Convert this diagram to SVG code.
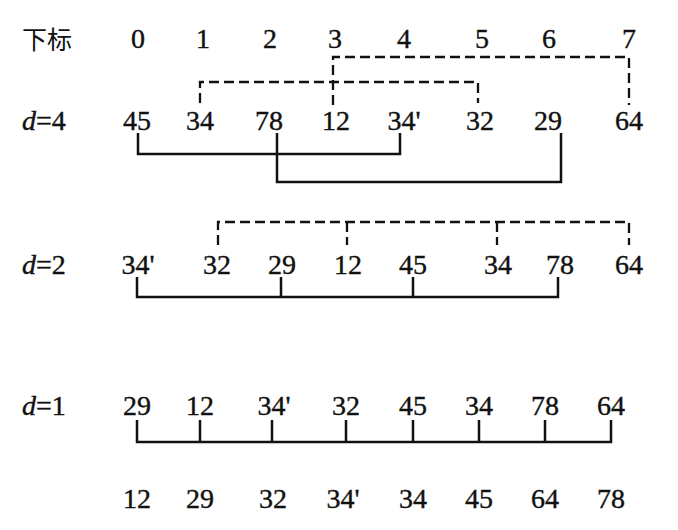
<svg xmlns="http://www.w3.org/2000/svg" width="678" height="530" viewBox="0 0 678 530">
<style>
.s{fill:none;stroke:#111;stroke-width:2.5}
.d{fill:none;stroke:#111;stroke-width:2.3;stroke-dasharray:10 5}
</style>
<rect width="678" height="530" fill="#fff"/>
<g font-family="'Times New Roman', 'Liberation Serif', 'DejaVu Serif', serif" font-size="28" fill="#111" stroke="#111" stroke-width="0.4" text-anchor="middle">
<g id="header">
<text x="22" y="49" font-family="Noto Sans CJK SC, sans-serif" font-size="25" stroke-width="0" text-anchor="start">下标</text>
<text x="138" y="48">0</text>
<text x="203" y="48">1</text>
<text x="270" y="48">2</text>
<text x="335" y="48">3</text>
<text x="404" y="48">4</text>
<text x="482" y="48">5</text>
<text x="549" y="48">6</text>
<text x="629" y="48">7</text>
</g>
<g id="row-d4">
<text x="22" y="130" text-anchor="start"><tspan font-style="italic">d</tspan>=4</text>
<g id="d4-0"><text x="137" y="130">45</text></g>
<g id="d4-1"><text x="200" y="130">34</text></g>
<g id="d4-2"><text x="269" y="130">78</text></g>
<g id="d4-3"><text x="336" y="130">12</text></g>
<g id="d4-4"><text x="404" y="130">34'</text></g>
<g id="d4-5"><text x="480" y="130">32</text></g>
<g id="d4-6"><text x="548" y="130">29</text></g>
<g id="d4-7"><text x="629" y="130">64</text></g>
</g>
<g id="row-d2">
<text x="22" y="274" text-anchor="start"><tspan font-style="italic">d</tspan>=2</text>
<g id="d2-0"><text x="138" y="274">34'</text></g>
<g id="d2-1"><text x="217" y="274">32</text></g>
<g id="d2-2"><text x="282" y="274">29</text></g>
<g id="d2-3"><text x="348" y="274">12</text></g>
<g id="d2-4"><text x="413" y="274">45</text></g>
<g id="d2-5"><text x="498" y="274">34</text></g>
<g id="d2-6"><text x="560" y="274">78</text></g>
<g id="d2-7"><text x="629" y="274">64</text></g>
</g>
<g id="row-d1">
<text x="22" y="415" text-anchor="start"><tspan font-style="italic">d</tspan>=1</text>
<g id="d1-0"><text x="137" y="415">29</text></g>
<g id="d1-1"><text x="200" y="415">12</text></g>
<g id="d1-2"><text x="274" y="415">34'</text></g>
<g id="d1-3"><text x="346" y="415">32</text></g>
<g id="d1-4"><text x="413" y="415">45</text></g>
<g id="d1-5"><text x="479" y="415">34</text></g>
<g id="d1-6"><text x="545" y="415">78</text></g>
<g id="d1-7"><text x="611" y="415">64</text></g>
</g>
<g id="row-result">
<g id="r-0"><text x="137" y="508">12</text></g>
<g id="r-1"><text x="200" y="508">29</text></g>
<g id="r-2"><text x="273" y="508">32</text></g>
<g id="r-3"><text x="343" y="508">34'</text></g>
<g id="r-4"><text x="413" y="508">34</text></g>
<g id="r-5"><text x="479" y="508">45</text></g>
<g id="r-6"><text x="545" y="508">64</text></g>
<g id="r-7"><text x="611" y="508">78</text></g>
</g>
</g>
<g id="connectors">
<path class="d" d="M333,105 V57 H629 V105"/>
<path class="d" d="M200,103 V82 H478 V103"/>
<path class="s" d="M138,133 V154 H400 V133"/>
<path class="s" d="M277,133 V182 H561 V133"/>
<path class="d" d="M218,245 V222 H629 V245"/>
<path class="d" d="M347,222 V245 M497,222 V245"/>
<path class="s" d="M137,277 V297 H558 V277 M281,277 V297 M413,277 V297"/>
<path class="s" d="M137,420 V442 H611 V420 M200,420 V442 M272,420 V442 M346,420 V442 M413,420 V442 M479,420 V442 M545,420 V442"/>
</g>
</svg>
